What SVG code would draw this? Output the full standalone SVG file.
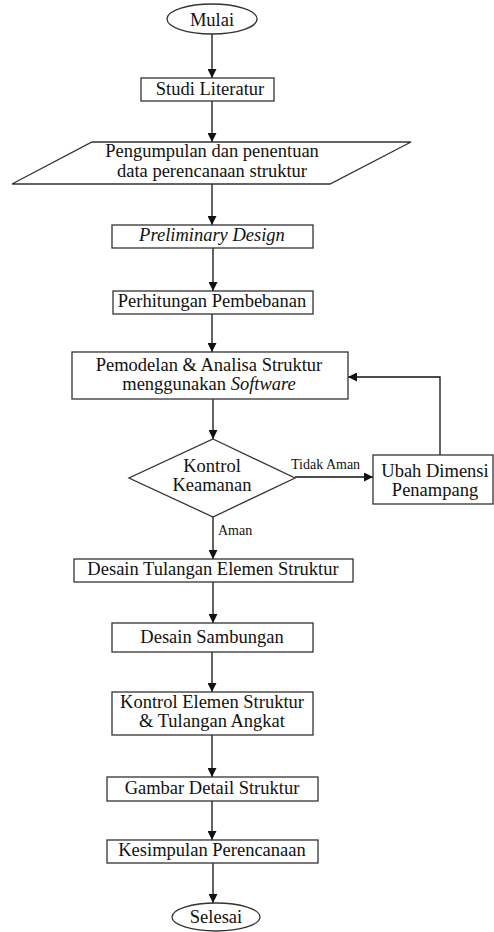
<svg xmlns="http://www.w3.org/2000/svg" width="494" height="932" viewBox="0 0 494 932">
<defs>
<marker id="arr" markerUnits="userSpaceOnUse" markerWidth="9" markerHeight="9" viewBox="0 0 10 10" refX="10" refY="5" orient="auto">
<path d="M0,0 L10,5 L0,10 z" fill="#111"/>
</marker>
<style>
.s{fill:#fff;stroke:#333;stroke-width:1.3}
.t{font-family:"Liberation Serif","Times New Roman",serif;font-size:18.5px;fill:#111;text-anchor:middle}
.l{font-family:"Liberation Serif","Times New Roman",serif;font-size:14px;fill:#111}
.c{fill:none;stroke:#111;stroke-width:1.3;marker-end:url(#arr)}
</style>
</defs>
<rect width="494" height="932" fill="#fff"/>
<g id="connectors">
<line class="c" x1="212" y1="34" x2="212" y2="78"/>
<line class="c" x1="212" y1="101" x2="212" y2="142"/>
<line class="c" x1="212" y1="184" x2="212" y2="225"/>
<line class="c" x1="213" y1="248" x2="213" y2="291"/>
<line class="c" x1="212" y1="314" x2="212" y2="352"/>
<line class="c" x1="213" y1="399" x2="213" y2="439"/>
<line class="c" x1="295" y1="477" x2="373" y2="477"/>
<path class="c" d="M440 455 V377 H348"/>
<line class="c" x1="213" y1="517" x2="213" y2="559"/>
<line class="c" x1="213" y1="582" x2="213" y2="623"/>
<line class="c" x1="212" y1="652" x2="212" y2="692"/>
<line class="c" x1="212" y1="735" x2="212" y2="777"/>
<line class="c" x1="212" y1="801" x2="212" y2="840"/>
<line class="c" x1="213" y1="863" x2="213" y2="903"/>
<text class="l" x="291" y="469">Tidak Aman</text>
<text class="l" x="218" y="535">Aman</text>
</g>
<g id="mulai">
<ellipse class="s" cx="212" cy="19" rx="45" ry="15"/>
<text class="t" x="212" y="26">Mulai</text>
</g>
<g id="studi">
<rect class="s" x="141" y="78" width="133" height="23"/>
<text class="t" x="210" y="95">Studi Literatur</text>
</g>
<g id="pengumpulan">
<polygon class="s" points="92,142 411,142 330,184 12,184"/>
<text class="t" x="212" y="157">Pengumpulan dan penentuan</text>
<text class="t" x="212" y="177">data perencanaan struktur</text>
</g>
<g id="preliminary">
<rect class="s" x="112" y="225" width="201" height="23"/>
<text class="t" x="212" y="241" font-style="italic">Preliminary Design</text>
</g>
<g id="perhitungan">
<rect class="s" x="113" y="291" width="200" height="23"/>
<text class="t" x="212" y="307">Perhitungan Pembebanan</text>
</g>
<g id="pemodelan">
<rect class="s" x="72" y="352" width="276" height="47"/>
<text class="t" x="209" y="371">Pemodelan &amp; Analisa Struktur</text>
<text class="t" x="209" y="390">menggunakan <tspan font-style="italic">Software</tspan></text>
</g>
<g id="kontrol-keamanan">
<polygon class="s" points="213,439 295,478 213,517 129,478"/>
<text class="t" x="212" y="472">Kontrol</text>
<text class="t" x="212" y="491">Keamanan</text>
</g>
<g id="ubah">
<rect class="s" x="373" y="455" width="120" height="49"/>
<text class="t" x="435" y="477">Ubah Dimensi</text>
<text class="t" x="435" y="496">Penampang</text>
</g>
<g id="desain-tulangan">
<rect class="s" x="74" y="559" width="279" height="23"/>
<text class="t" x="213" y="575">Desain Tulangan Elemen Struktur</text>
</g>
<g id="desain-sambungan">
<rect class="s" x="112" y="623" width="201" height="29"/>
<text class="t" x="212" y="643">Desain Sambungan</text>
</g>
<g id="kontrol-elemen">
<rect class="s" x="112" y="692" width="201" height="43"/>
<text class="t" x="212" y="708">Kontrol Elemen Struktur</text>
<text class="t" x="212" y="727">&amp; Tulangan Angkat</text>
</g>
<g id="gambar">
<rect class="s" x="107" y="777" width="211" height="24"/>
<text class="t" x="212" y="794">Gambar Detail Struktur</text>
</g>
<g id="kesimpulan">
<rect class="s" x="107" y="840" width="211" height="23"/>
<text class="t" x="212" y="856">Kesimpulan Perencanaan</text>
</g>
<g id="selesai">
<ellipse class="s" cx="216" cy="917" rx="44" ry="14"/>
<text class="t" x="216" y="923">Selesai</text>
</g>
</svg>
